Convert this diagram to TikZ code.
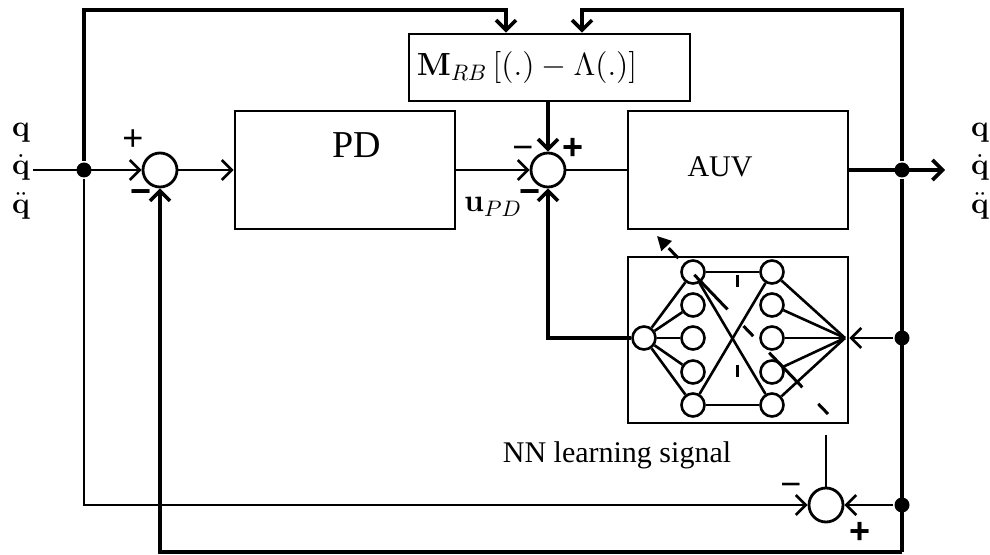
\documentclass[tikz,border=0pt]{standalone}
\usepackage{fix-cm}
\usepackage[no-math]{fontspec}
\setmainfont{Liberation Serif}
\newfontfamily\signfont{Liberation Sans}
\usetikzlibrary{arrows.meta}

\begin{document}
\begin{tikzpicture}[x=0.5pt,y=-0.5pt,line width=1.3pt,
  >={Straight Barb[length=5pt,width=10pt]},
  block/.style={draw,rectangle,inner sep=0pt,line width=1.4pt},
  sumnode/.style={draw,circle,minimum size=17pt,inner sep=0pt,line width=1.4pt},
  neuron/.style={draw,circle,minimum size=11.5pt,inner sep=0pt,line width=1.3pt},
  junc/.style={fill,circle,minimum size=7.5pt,inner sep=0pt},
  sgn/.style={font=\signfont\fontsize{18}{18}\selectfont,inner sep=0pt},
  bsgn/.style={font=\signfont\bfseries\fontsize{18}{18}\selectfont,inner sep=0pt},
  qlab/.style={font=\fontsize{15}{19.25}\selectfont,align=center,inner sep=0pt},
  heavy/.style={line width=1.8pt}]
  \useasboundingbox (0,0) rectangle (990,555);

  % blocks
  \node[block,minimum width=110pt,minimum height=59pt] (pd) at (345,170) {};
  \node[font=\fontsize{19}{19}\selectfont] (pdlabel) at (357,145) {PD};
  \node[block,minimum width=110pt,minimum height=59pt] (auv) at (738,170) {};
  \node[font=\fontsize{15}{15}\selectfont] (auvlabel) at (720,167) {AUV};
  \node[block,minimum width=140.5pt,minimum height=33.5pt] (mrb) at (549.5,67.5) {};
  \node[font=\fontsize{16}{16}\selectfont] (mrblabel) at (527,68) {$\mathbf{M}_{RB}\,[(.)-\Lambda(.)]$};
  \node[block,minimum width=110pt,minimum height=83pt] (nn) at (738,340) {};

  % summing junctions and branch points
  \node[sumnode] (s1) at (160,170) {};
  \node[sumnode] (s2) at (548,170) {};
  \node[sumnode] (s3) at (826,505) {};
  \node[junc] (j1) at (84,170) {};
  \node[junc] (j2) at (902,170) {};
  \node[junc] (j3) at (902,338) {};
  \node[junc] (j4) at (902,505) {};

  % network
  \node[neuron] (n0) at (644,338) {};
  \foreach \i/\y in {1/272,2/305,3/338,4/372,5/405} {
    \node[neuron] (a\i) at (693,\y) {};
    \node[neuron] (b\i) at (772,\y) {};
  }
  \coordinate (nout) at (845,338);
  \foreach \i in {1,...,5} {
    \draw (n0) -- (a\i);
    \draw (b\i) -- (nout);
  }
  \draw (a1) -- (b1);
  \draw (a5) -- (b5);
  \draw (a1) -- (b5);
  \draw (a5) -- (b1);

  \coordinate (inl) at (33,170);
  \coordinate (outr) at (945,170);
  \coordinate (t1) at (506,10);
  \coordinate (t2) at (582,10);
  \coordinate (bot) at (902,552);
  \coordinate (ls) at (826,435);
  \coordinate (lstart) at (828,414);
  \coordinate (lend) at (657,236);

  % signal paths
  \draw[->] (inl) -- (s1);
  \draw[->] (s1) -- (pd);
  \draw[->] (pd) -- (s2);
  \draw (s2) -- (auv);
  \draw[->,heavy] (auv) -- (outr);
  \draw[->,heavy] (j1) |- (t1) -- (t1 |- mrb.north);
  \draw[->,heavy] (j2) |- (t2) -- (t2 |- mrb.north);
  \draw[->,heavy] (mrb.south -| s2) -- (s2);
  \draw[->] (j1) |- (s3);
  \draw[->] (j4) -- (s3);
  \draw[heavy] (j2) -- (bot);
  \draw[->,heavy] (bot) -| (s1);
  \draw[->] (j3) -- (j3 -| nn.east);
  \draw[->,heavy] (n0) -| (s2);
  \draw (s3) -- (ls);
  \draw[-{Triangle[length=7pt,width=7pt]},line width=1.5pt,
    dash pattern=on 7pt off 11.5pt on 24pt off 11.5pt] (lstart) -- (lend);
  \draw[line width=1.5pt,dash pattern=on 6pt off 39pt] (737,275) -- (737,377);

  % signs
  \node[sgn] (p1) at (133,140) {+};
  \node[bsgn] (m1) at (141,197) {−};
  \node[sgn] (m2) at (523,153) {−};
  \node[bsgn] (p2) at (573,149) {+};
  \node[bsgn] (m3) at (530,197) {−};
  \node[sgn] (m4) at (791,490) {−};
  \node[bsgn] (p4) at (860,533) {+};

  % labels
  \node[font=\fontsize{16}{16}\selectfont,anchor=base] (upd) at (493,212) {$\mathbf{u}_{PD}$};
  \node[font=\fontsize{15}{15}\selectfont,anchor=base] (nnlabel) at (617,462) {NN learning signal};
  \node[qlab] (qin) at (21,171) {$\mathbf{q}$\\$\dot{\mathbf{q}}$\\$\ddot{\mathbf{q}}$};
  \node[qlab] (qout) at (980,171) {$\mathbf{q}$\\$\dot{\mathbf{q}}$\\$\ddot{\mathbf{q}}$};
\end{tikzpicture}
\end{document}
